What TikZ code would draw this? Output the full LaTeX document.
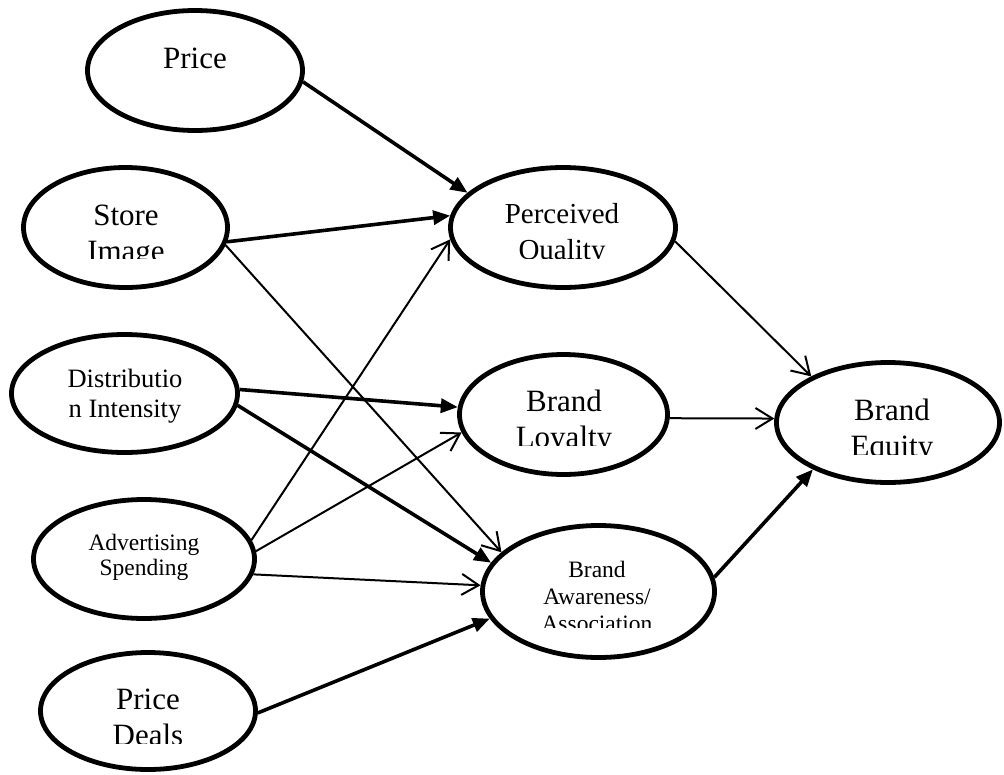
\documentclass[tikz,border=0pt]{standalone}
\usepackage{fontspec}
\setmainfont{Liberation Serif}
\usetikzlibrary{shapes.geometric,arrows.meta}
\begin{document}
\begin{tikzpicture}[x=1pt,y=-1pt,
  ell/.style={draw, line width=4.8pt, ellipse, inner sep=0pt, outer sep=2.4pt},
  lbl/.style={anchor=base, inner sep=0pt, outer sep=0pt},
  big/.style={lbl, font=\fontsize{31}{36}\selectfont},
  mid/.style={lbl, font=\fontsize{29}{34}\selectfont},
  med/.style={lbl, font=\fontsize{26.5}{31}\selectfont},
  sml/.style={lbl, font=\fontsize{23.5}{27}\selectfont},
  strong/.style={line width=3.6pt, -{Triangle[length=17pt,width=14pt]}},
  weak/.style={line width=2pt, -{Straight Barb[length=17pt,width=21pt]}}
]
\fill[white] (0,0) rectangle (1004,774);
\useasboundingbox (0,0) rectangle (1004,774);

% ellipses
\node[ell, minimum width=215pt, minimum height=120pt] (price) at (195,70.5) {};
\node[ell, minimum width=204pt, minimum height=120pt] (store) at (125.5,227.5) {};
\node[ell, minimum width=226pt, minimum height=118pt] (dist) at (124.5,393.5) {};
\node[ell, minimum width=221pt, minimum height=119pt] (adv) at (144,559) {};
\node[ell, minimum width=215pt, minimum height=117pt] (deals) at (148,711) {};
\node[ell, minimum width=225pt, minimum height=120pt] (pq) at (563,227.5) {};
\node[ell, minimum width=208pt, minimum height=120pt] (bl) at (563.5,414.5) {};
\node[ell, minimum width=223pt, minimum height=120pt] (be) at (888,422.5) {};
\node[ell, minimum width=232pt, minimum height=132pt] (ba) at (598.5,591.5) {};

% labels
\node[big] (tprice) at (195,68) {Price};
\begin{scope}
  \clip (40,180) rectangle (210,258);
  \node[big] (tstore1) at (126,225) {Store};
  \node[big] (tstore2) at (126,261) {Image};
\end{scope}
\node[med] (tdist1) at (125,387) {Distributio};
\node[med] (tdist2) at (125,417) {n Intensity};
\node[sml] (tadv1) at (144,550) {Advertising};
\node[sml] (tadv2) at (144,575) {Spending};
\begin{scope}
  \clip (60,670) rectangle (240,743);
  \node[big] (tdeals1) at (148,709) {Price};
  \node[big] (tdeals2) at (148,745) {Deals};
\end{scope}
\begin{scope}
  \clip (470,180) rectangle (660,258);
  \node[mid] (tpq1) at (562,223) {Perceived};
  \node[mid] (tpq2) at (562,259.5) {Quality};
\end{scope}
\begin{scope}
  \clip (470,370) rectangle (660,445);
  \node[big] (tbl1) at (564,411) {Brand};
  \node[big] (tbl2) at (564,447) {Loyalty};
\end{scope}
\begin{scope}
  \clip (790,380) rectangle (990,454);
  \node[big] (tbe1) at (892,420) {Brand};
  \node[big] (tbe2) at (892,456) {Equity};
\end{scope}
\begin{scope}
  \clip (490,540) rectangle (710,627);
  \node[sml] (tba1) at (597,577) {Brand};
  \node[sml] (tba2) at (597,604) {Awareness/};
  \node[sml] (tba3) at (597,631) {Association};
\end{scope}

% connectors
\draw[strong] (price.-6) -- (pq.160.5);
\draw[strong] (store.-8) -- (pq.174);
\draw[weak] (store.-10) -- (ba.158);
\draw[strong] (dist.2) -- (bl.176);
\draw[strong] (dist.-6) -- (ba.165.5);
\draw[weak] (adv.10.7) -- (pq.186);
\draw[weak] (adv.4.5) -- (bl.190.4);
\draw[weak] (adv.-8.7) -- (ba.177);
\draw[strong] (deals.-1) -- (ba.194.7);
\draw[weak] (pq.-7.7) -- (be.149.7);
\draw[weak] (bl.-2) -- (be.178.5);
\draw[strong] (ba.7.1) -- (be.212.4);
\end{tikzpicture}
\end{document}
